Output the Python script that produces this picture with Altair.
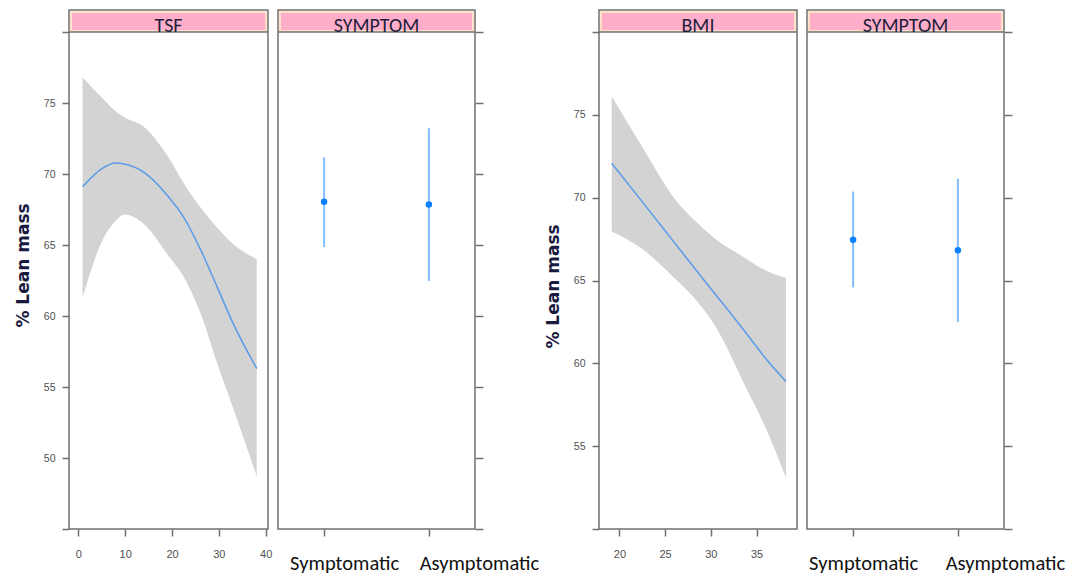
import altair as alt
import pandas as pd

# ---------------- data ----------------
# Left model: effect of TSF on % lean mass
tsf_x = [0.9, 5.1, 8.0, 9.8, 14.1, 19.1, 22.6, 26.2, 29.7, 33.3, 38.1]
tsf_fit = [69.1, 70.4, 70.78, 70.7, 70.1, 68.45, 66.9, 64.6, 62.0, 59.3, 56.3]
tsf_lower = [61.3, 65.3, 66.7, 67.15, 66.45, 64.3, 62.7, 60.1, 56.6, 53.3, 48.7]
tsf_upper = [76.8, 75.35, 74.4, 74.0, 73.3, 71.25, 69.3, 67.6, 66.2, 65.0, 64.0]

# Right model: effect of BMI on % lean mass
bmi_x = [19.16, 22.36, 26.0, 28.57, 30.38, 34.04, 35.85, 38.23]
bmi_fit = [72.08, 69.85, 67.3, 65.5, 64.25, 61.7, 60.4, 58.9]
bmi_lower = [67.96, 66.96, 65.15, 63.7, 62.34, 58.32, 56.3, 53.1]
bmi_upper = [76.1, 73.19, 69.97, 68.45, 67.56, 66.26, 65.65, 65.15]

# SYMPTOM effects
symptom_levels = ["Symptomatic", "Asymptomatic"]
sym_fit_tsf_model = [68.04, 67.86]
sym_lower_tsf_model = [64.85, 62.46]
sym_upper_tsf_model = [71.18, 73.22]
sym_fit_bmi_model = [67.46, 66.82]
sym_lower_bmi_model = [64.58, 62.49]
sym_upper_bmi_model = [70.37, 71.14]

strip_labels = ["TSF", "SYMPTOM", "BMI", "SYMPTOM"]
y_title = "% Lean mass"

tsf_ticks = [0, 10, 20, 30, 40]
bmi_ticks = [20, 25, 30, 35]
y_ticks_left = [45, 50, 55, 60, 65, 70, 75, 80]
y_ticks_right = [50, 55, 60, 65, 70, 75, 80]

# ---------------- styling ----------------
FRAME = "#707070"
BAND = "#D3D3D3"
LINE = "#5A9BE8"
BAR = "#82BEFF"
POINT = "#0A80FF"
PINK = "#FFAEC9"
PEACH = "#FFE0C8"
STRIP_TXT = "#1E1E3C"
LABEL = "#505050"
STRIP_H = 22
VIEW_H = 519  # strip + plot area


def strip_layers(label, w):
    df = pd.DataFrame({"label": [label]})
    base = alt.Chart(df)
    bg = base.mark_rect(color=PINK, stroke=PEACH, strokeWidth=2).encode(
        x=alt.value(2), x2=alt.value(w - 2), y=alt.value(2), y2=alt.value(STRIP_H - 1)
    )
    sep = base.mark_rule(color=FRAME, strokeWidth=1.5).encode(
        x=alt.value(0), x2=alt.value(w), y=alt.value(STRIP_H)
    )
    txt = base.mark_text(
        font="Carlito, Lato", fontSize=20, color=STRIP_TXT, baseline="alphabetic", align="center"
    ).encode(text="label:N", x=alt.value(w / 2), y=alt.value(21.5))
    return [bg, sep, txt]


def y_axis_left(ticks, lo, hi, title_y):
    return alt.Axis(
        values=ticks,
        labelExpr=f"datum.value >= {lo} && datum.value <= {hi} ? datum.label : ''",
        title=y_title,
        titleFont="DejaVu Sans",
        titleFontWeight="bold",
        titleFontSize=17,
        titleColor="#1a1a3e",
        titleX=-46,
        titleY=title_y,
        titleBaseline="middle",
        titleAngle=270,
        grid=False,
        domain=False,
        tickSize=7,
        labelPadding=7,
        labelFont="Liberation Sans",
        labelFontSize=10.5,
    )


def effect_panel(label, x, fit, lower, upper, xdom, xticks, ydom, yaxis, w):
    df = pd.DataFrame({"x": x, "fit": fit, "lower": lower, "upper": upper})
    xs = alt.Scale(domain=xdom, nice=False, zero=False)
    ys = alt.Scale(domain=ydom, nice=False, zero=False, range=[VIEW_H, STRIP_H])
    xax = alt.Axis(
        values=xticks, title=None, grid=False, domain=False, tickSize=7,
        labelPadding=12, labelFont="Liberation Sans", labelFontSize=11,
    )
    band = alt.Chart(df).mark_area(color=BAND, opacity=1, interpolate="monotone").encode(
        x=alt.X("x:Q", scale=xs, axis=xax),
        y=alt.Y("lower:Q", scale=ys, axis=yaxis),
        y2="upper:Q",
    )
    line = alt.Chart(df).mark_line(color=LINE, strokeWidth=1.5, interpolate="monotone").encode(
        x="x:Q", y="fit:Q"
    )
    return alt.layer(band, line, *strip_layers(label, w)).properties(width=w, height=VIEW_H)


def symptom_panel(label, fit, lower, upper, ydom, yticks, w, off_sym, off_asym):
    df = pd.DataFrame({"level": symptom_levels, "fit": fit, "lower": lower, "upper": upper})
    xs = alt.Scale(type="point", domain=symptom_levels, padding=0.44)
    ys = alt.Scale(domain=ydom, nice=False, zero=False, range=[VIEW_H, STRIP_H])
    xax = alt.Axis(
        title=None, grid=False, domain=False, tickSize=7, labelPadding=17,
        labelFont="Carlito, Lato", labelFontSize=20.5, labelColor="#111111", labelAngle=0,
        labelOffset={"condition": {"test": "datum.value == 'Symptomatic'", "value": off_sym}, "value": off_asym},
    )
    yax = alt.Axis(
        orient="right", values=yticks, labels=False, title=None, grid=False,
        domain=False, tickSize=8,
    )
    bars = alt.Chart(df).mark_rule(color=BAR, strokeWidth=2).encode(
        x=alt.X("level:N", scale=xs, axis=xax, sort=symptom_levels),
        y=alt.Y("lower:Q", scale=ys, axis=yax),
        y2="upper:Q",
    )
    pts = alt.Chart(df).mark_circle(color=POINT, size=42, opacity=1).encode(
        x=alt.X("level:N", sort=symptom_levels), y="fit:Q"
    )
    return alt.layer(bars, pts, *strip_layers(label, w)).properties(width=w, height=VIEW_H)


def spacer(w):
    return alt.Chart(pd.DataFrame({"v": [0]})).mark_point(opacity=0, size=1).encode(
        x=alt.value(w / 2), y=alt.value(VIEW_H / 2)
    ).properties(width=w, height=VIEW_H, view=alt.ViewBackground(stroke="transparent"))


pA = effect_panel(strip_labels[0], tsf_x, tsf_fit, tsf_lower, tsf_upper, [-2.0, 40.5], tsf_ticks,
                  [45, 80], y_axis_left(y_ticks_left, 50, 75, 255), 199)
pB = symptom_panel(strip_labels[1], sym_fit_tsf_model, sym_lower_tsf_model, sym_upper_tsf_model,
                   [45, 80], y_ticks_left, 197, 20, 50)
pC = effect_panel(strip_labels[2], bmi_x, bmi_fit, bmi_lower, bmi_upper, [17.77, 39.43], bmi_ticks,
                  [50, 80], y_axis_left(y_ticks_right, 55, 75, 276), 198)
pD = symptom_panel(strip_labels[3], sym_fit_bmi_model, sym_lower_bmi_model, sym_upper_bmi_model,
                   [50, 80], y_ticks_right, 197, 10, 47)

chart = (
    alt.hconcat(pA, pB, spacer(104), pC, pD, spacing=10, bounds="flush")
    .properties(padding={"left": 5, "top": 1, "right": 0, "bottom": 0}, background="white")
    .configure_view(stroke=FRAME, strokeWidth=1.5)
    .configure_axis(tickColor=FRAME, tickWidth=1.5, labelColor=LABEL)
)

chart.save("out.html", embed_options={"renderer": "svg", "actions": False})
